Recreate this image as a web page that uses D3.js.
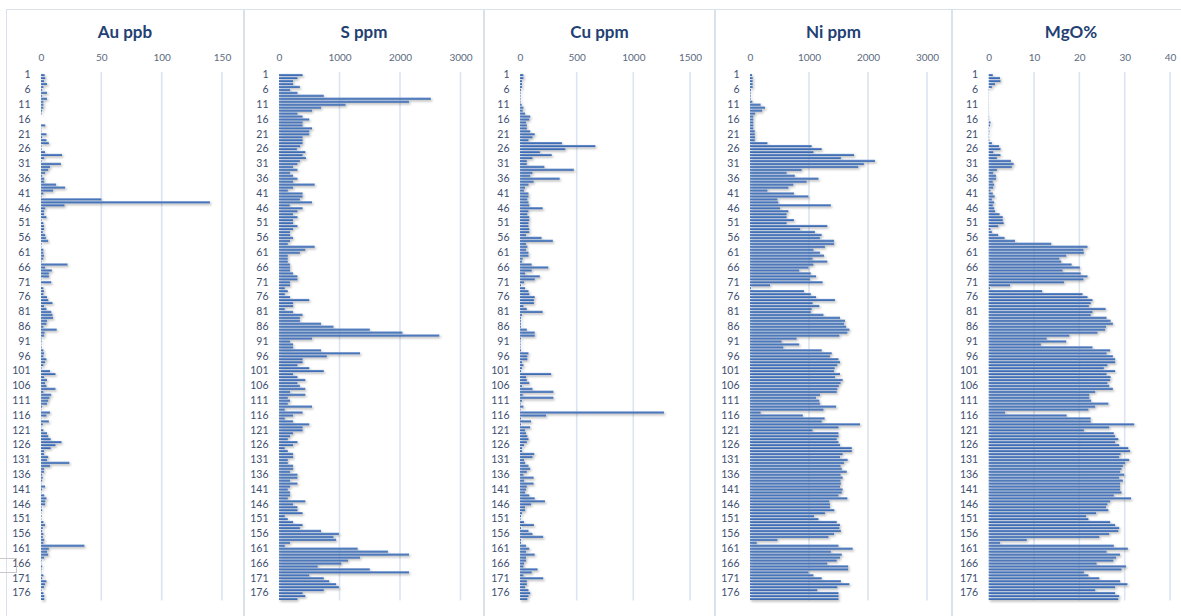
<!DOCTYPE html>
<html><head><meta charset="utf-8">
<script src="https://cdn.jsdelivr.net/npm/d3@7"></script>
<style>
body{margin:0;background:#fff;}
svg{display:block;font-family:Lato,"Open Sans",sans-serif;}
</style></head><body>
<svg id="c" width="1181" height="616"></svg>
<script>
// ---------- DATA ----------
const categories = d3.range(1, 179);
const titles = ["Au ppb", "S ppm", "Cu ppm", "Ni ppm", "MgO%"];
const auTicks = [0, 50, 100, 150];
const sTicks = [0, 1000, 2000, 3000];
const cuTicks = [0, 500, 1000, 1500];
const niTicks = [0, 1000, 2000, 3000];
const mgoTicks = [0, 10, 20, 30, 40];

const au = [3,3.5,2.5,5,2,1,5,1,5,2,2,2,1,0.5,0,0,0,3.5,0.3,0.3,4.5,1,4.5,6.5,0.5,0.5,3.3,17.5,2.7,0.5,
16.5,7.5,6,3.3,1,2.7,2.7,12.5,20,10,2,0.5,50,140,19.5,3.5,2.5,2.5,4.5,0.5,2,2.5,2.5,1.5,3.5,4,6,0.5,0.3,2,
2,2.5,2,0.5,22,3.3,9,6.5,6.5,0.3,8.5,0.3,2,2.5,2,5,6,9.5,2.5,4.5,8.5,9.5,10,5,4.5,2,13,3,2.7,0.5,
0.5,0.3,0.5,2,2.5,2,4.5,3.3,2,0.5,7.5,12,2.5,5,3.3,4.5,12,2,8.5,7,6,5,1,0.3,7.5,4.5,0.3,6.5,1.5,0.3,
2,5,6,8,17,12,8,2.5,2.5,6,5,23.5,7.5,2.5,2.5,1,1.5,1,0.3,3.3,1,0.3,2.7,4.5,3.5,3.3,0.5,1,0.3,0.5,
0.3,2,3.3,1.5,1,2,1.5,2.7,2,36,6.5,5,6,2.5,0.5,0.3,1,0.5,0.3,2,1,4.5,3.3,2.5,0.5,2,2.7,2.7];

const s = [390,305,233,233,345,183,305,740,2510,2150,1100,695,545,305,390,500,390,390,545,500,
500,390,390,390,350,295,435,390,445,345,305,233,305,183,233,305,233,590,233,145,
390,390,345,545,178,390,305,233,305,233,233,305,233,183,183,233,183,145,590,435,
345,145,145,145,183,183,183,233,305,305,183,183,95,145,95,183,500,233,233,95,
233,390,345,345,695,900,1500,2040,2650,545,183,233,233,695,1340,790,390,390,305,500,
740,233,305,435,305,345,435,183,435,145,183,145,545,95,390,233,95,233,500,390,
390,233,183,145,305,233,95,145,233,233,145,145,233,233,183,305,305,183,305,183,
145,183,183,145,435,233,305,305,390,95,145,233,390,345,695,990,900,945,183,95,
1300,1800,2150,1340,1140,1030,640,1500,2150,500,740,830,945,990,740,390,435,305];

const cu = [30,30,18,18,18,9,5,5,5,5,15,30,24,45,90,82,53,60,60,90,
130,110,75,370,665,400,175,280,110,60,60,215,475,110,90,350,120,75,45,35,
75,75,65,75,82,200,75,65,82,82,75,75,82,82,53,190,290,53,65,53,
75,75,24,18,103,250,103,45,175,130,35,9,45,75,82,130,123,123,30,60,
200,18,9,8,8,8,60,130,130,9,5,5,5,9,75,65,65,18,30,18,
9,275,53,60,82,18,110,295,24,295,18,6,30,5,1270,230,9,97,9,90,
45,53,65,75,60,35,18,18,126,110,35,45,75,90,60,30,120,35,120,60,
53,45,82,130,220,97,45,45,18,9,5,35,123,9,75,110,205,9,9,53,
82,53,130,53,53,35,30,155,103,30,205,60,60,45,75,90,75,65];

const ni = [35,45,45,45,45,17,11,11,11,40,180,255,205,85,56,56,56,56,56,80,
80,85,80,295,1045,1215,1075,1765,1540,2120,1930,1835,875,620,760,1160,960,735,650,295,
745,990,465,480,1370,510,650,620,620,745,620,1310,850,1100,1215,1185,1425,1425,1270,1075,
1185,1255,1060,1310,1075,990,835,1030,1120,1015,1230,340,17,915,1030,1120,1440,1060,1175,1045,
1030,1245,1525,1610,1595,1630,1685,1650,1515,790,535,835,565,1215,1385,1355,1500,1525,1480,1435,
1425,1525,1440,1570,1535,1505,1480,1470,1185,1120,1175,1185,1460,1245,180,895,1265,1215,1865,1500,
1060,1500,1500,1470,1500,1525,1725,1725,1570,1525,1655,1595,1535,1555,1640,1535,1570,1535,1540,1525,
1570,1555,1500,1650,1345,1355,1355,1430,1270,1085,1160,1470,1525,1515,1540,1425,1330,465,113,1500,
1740,1370,1555,1525,1470,1310,1665,1665,990,1075,1215,1540,1685,1480,1140,1500,1500,1500];

const mgo = [0.9,2.5,2.6,1.4,0.7,0.1,0.05,0.05,0.05,0.05,0.05,0.05,0.05,0.05,0.1,0.1,0.4,0.3,0.1,0.15,
0.1,0.1,0.15,0.7,2.3,2.6,1.0,2.6,1.8,4.9,5.5,5.1,1.8,1.0,1.6,1.6,0.9,1.2,1.0,0.4,
0.9,1.3,0.7,1.2,0.9,1.2,1.4,2.4,3.1,3.1,3.3,2.1,0.4,0.7,2.1,3.5,5.8,13.8,21.8,20.9,
21.0,17.1,15.6,16.0,18.3,20.1,16.3,20.3,21.8,20.9,16.6,4.7,0.3,11.8,20.7,21.8,22.9,22.5,22.1,25.8,
22.9,22.5,26.0,26.9,27.4,25.9,25.7,24.0,17.8,12.8,17.1,11.5,22.9,26.8,26.0,27.4,27.9,27.9,26.2,25.4,
27.9,26.0,26.9,26.8,26.2,26.6,27.4,23.5,22.2,22.2,22.6,26.4,23.5,22.0,3.6,17.2,22.5,22.5,32.1,26.6,
21.0,27.6,27.9,28.6,27.9,28.8,30.8,31.2,29.1,28.8,31.0,30.1,29.6,29.3,29.0,29.9,28.8,29.6,29.0,29.0,
29.0,29.3,27.6,31.4,26.8,26.2,25.9,26.4,23.7,21.5,22.0,26.8,27.9,28.8,28.6,26.6,24.4,8.4,2.5,27.6,
30.7,26.0,29.0,28.1,27.5,23.8,30.3,29.3,21.0,22.0,24.4,29.0,30.6,27.9,23.5,27.9,28.8,28.6];

const seriesList = [au, s, cu, ni, mgo];
const tickList = [auTicks, sTicks, cuTicks, niTicks, mgoTicks];

// ---------- LAYOUT ----------
const layout = [
  {left: 6,   right: 244,  x0: 41,    x1: 222},
  {left: 244, right: 484,  x0: 279,   x1: 460.5},
  {left: 484, right: 715,  x0: 520,   x1: 690},
  {left: 715, right: 952,  x0: 750,   x1: 927},
  {left: 952, right: 1190, x0: 988.7, x1: 1170}
];
const plotTop = 73.5, rowStep = 2.96;

const svg = d3.select("#c");
const defs = svg.append("defs");
defs.append("filter").attr("id", "sh")
  .attr("x", "-10%").attr("y", "-10%").attr("width", "130%").attr("height", "130%")
  .append("feDropShadow")
  .attr("dx", 1.3).attr("dy", 1.6).attr("stdDeviation", 0.9)
  .attr("flood-color", "#000").attr("flood-opacity", 0.3);
const grad = defs.append("linearGradient").attr("id", "bg")
  .attr("x1", 0).attr("y1", 0).attr("x2", 0).attr("y2", 1);
grad.append("stop").attr("offset", "0%").attr("stop-color", "#6f95cf");
grad.append("stop").attr("offset", "100%").attr("stop-color", "#2f5ea8");

const yScale = d3.scaleBand().domain(categories)
  .range([plotTop, plotTop + rowStep * categories.length]).paddingInner(0.28).paddingOuter(0.14);

layout.forEach((L, i) => {
  const vals = seriesList[i];
  const ticks = tickList[i];
  const g = svg.append("g");
  const x = d3.scaleLinear().domain([0, ticks[ticks.length - 1]]).range([L.x0, L.x1]);

  g.append("rect").attr("x", L.left + 0.5).attr("y", 9.5)
    .attr("width", L.right - L.left - 1).attr("height", 700)
    .attr("fill", "#fff").attr("stroke", "#d9e1eb").attr("stroke-width", 1);

  g.append("text").attr("x", (L.left + L.right) / 2).attr("y", 37.5)
    .attr("text-anchor", "middle").attr("font-size", 17).attr("font-weight", 700)
    .attr("fill", "#1f4173").text(titles[i]);

  g.selectAll(".grid").data(ticks.filter(t => t > 0)).join("line")
    .attr("x1", d => x(d)).attr("x2", d => x(d))
    .attr("y1", 72).attr("y2", 600.5)
    .attr("stroke", "#dbe4f0").attr("stroke-width", 1.6);

  const ax = g.append("g").attr("transform", "translate(0,58)")
    .call(d3.axisTop(x).tickValues(ticks).tickSize(0).tickPadding(0).tickFormat(d3.format("d")));
  ax.select(".domain").remove();
  ax.selectAll("text").attr("font-family", "Lato, 'Open Sans', sans-serif")
    .attr("font-size", 10).attr("fill", "#5b6a7e").attr("dy", "0.3em");

  const yax = g.append("g").attr("transform", `translate(${L.x0 - 10.5},0)`)
    .call(d3.axisLeft(yScale).tickValues(categories.filter(c => (c - 1) % 5 === 0)).tickSize(0).tickPadding(0));
  yax.select(".domain").remove();
  yax.selectAll("text").attr("font-family", "Lato, 'Open Sans', sans-serif")
    .attr("font-size", 10.5).attr("fill", "#3e5070");

  g.append("g").attr("filter", "url(#sh)")
    .selectAll("rect").data(categories).join("rect")
    .attr("x", x(0))
    .attr("y", c => yScale(c))
    .attr("height", yScale.bandwidth())
    .attr("width", (c, k) => Math.max(0, x(vals[k]) - x(0)))
    .attr("fill", "url(#bg)");
});

svg.append("rect").attr("x", -1).attr("y", 558.5).attr("width", 17.5).attr("height", 14)
  .attr("fill", "none").attr("stroke", "#c8c8c8").attr("stroke-width", 1);
</script>
</body></html>
